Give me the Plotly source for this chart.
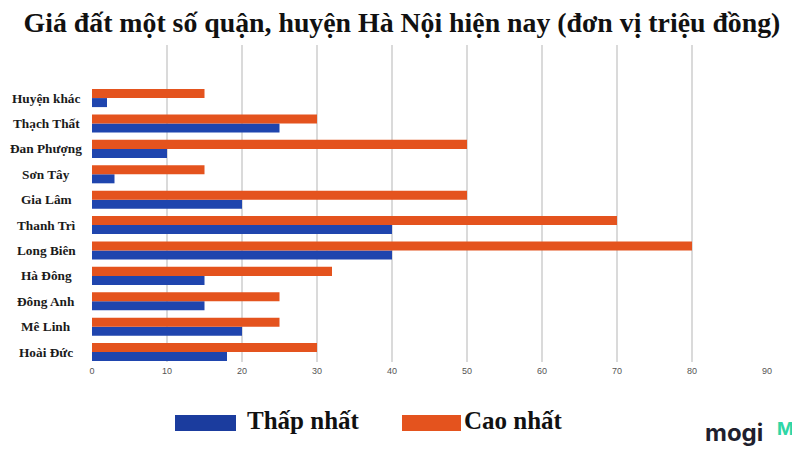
import plotly.graph_objects as go

categories = ["Huyện khác", "Thạch Thất", "Đan Phượng", "Sơn Tây", "Gia Lâm",
              "Thanh Trì", "Long Biên", "Hà Đông", "Đông Anh", "Mê Linh", "Hoài Đức"]
thap_nhat = [2, 25, 10, 3, 20, 40, 40, 15, 15, 20, 18]
cao_nhat = [15, 30, 50, 15, 50, 70, 80, 32, 25, 25, 30]
x_ticks = [0, 10, 20, 30, 40, 50, 60, 70, 80, 90]

BLUE = "#1F45AE"
ORANGE = "#E4531E"
SERIF = "Liberation Serif, Times New Roman, serif"

# page body has an 8px margin, so the figure is drawn at (8, 8)
OFF = 8
W, H = 800 - OFF, 450 - OFF
L, R, T = 92 - OFF, 800 - 767, 45 - OFF
B = H - (362 - OFF)
PW, PH = W - L - R, H - T - B


def px(x):
    return (x - OFF - L) / PW


def py(y):
    return (H - B - (y - OFF)) / PH


fig = go.Figure()
fig.add_trace(go.Bar(y=categories, x=thap_nhat, orientation="h", name="Thấp nhất",
                     marker=dict(color=BLUE, line=dict(width=0)), showlegend=False))
fig.add_trace(go.Bar(y=categories, x=cao_nhat, orientation="h", name="Cao nhất",
                     marker=dict(color=ORANGE, line=dict(width=0)), showlegend=False))

fig.update_layout(
    width=W, height=H,
    margin=dict(l=L, r=R, t=T, b=B, autoexpand=False),
    paper_bgcolor="white", plot_bgcolor="white",
    barmode="group", bargap=0.29, bargroupgap=0,
    title=dict(text="<b>Giá đất một số quận, huyện Hà Nội hiện nay (đơn vị triệu đồng)</b>",
               x=(402 - OFF) / W, xanchor="center", y=1 - (22 - OFF) / H, yanchor="middle",
               font=dict(family=SERIF, size=27.8, color="#111111")),
    xaxis=dict(range=[0, 90], tickvals=x_ticks, showgrid=True, gridcolor="#DADADA",
               gridwidth=1.5, zeroline=False, showline=False, ticks="", automargin=False,
               tickfont=dict(family="Liberation Sans, Arial, sans-serif", size=9, color="#555555"),
               ticklabelstandoff=2),
    yaxis=dict(categoryorder="array", categoryarray=list(reversed(categories)),
               range=[-0.39, 12.09], showgrid=False, zeroline=False, showline=False,
               ticks="", showticklabels=False, automargin=False),
)

# category labels, centred in the left margin
for cat in categories:
    fig.add_annotation(text="<b>" + cat + "</b>", xref="paper", yref="y",
                       x=px(46), y=cat, xanchor="center", yanchor="middle",
                       showarrow=False, font=dict(family=SERIF, size=13.3, color="#1a1a1a"))

# custom legend
fig.add_shape(type="rect", xref="paper", yref="paper",
              x0=px(175), x1=px(236), y0=py(431), y1=py(415),
              fillcolor="#1B3C9E", line=dict(width=0))
fig.add_shape(type="rect", xref="paper", yref="paper",
              x0=px(402), x1=px(461), y0=py(431), y1=py(415),
              fillcolor=ORANGE, line=dict(width=0))
fig.add_annotation(text="<b>Thấp nhất</b>", xref="paper", yref="paper",
                   x=px(245), y=py(420), xanchor="left", yanchor="middle",
                   showarrow=False, font=dict(family=SERIF, size=25, color="#111111"))
fig.add_annotation(text="<b>Cao nhất</b>", xref="paper", yref="paper",
                   x=px(462), y=py(420), xanchor="left", yanchor="middle",
                   showarrow=False, font=dict(family=SERIF, size=25, color="#111111"))

# watermark
fig.add_annotation(text="<b>mogi</b>", xref="paper", yref="paper",
                   x=px(703), y=py(432), xanchor="left", yanchor="middle",
                   showarrow=False, font=dict(family="Inter, Roboto, sans-serif", size=24, color="#1f1f2e"))
fig.add_annotation(text="<b>M</b>", xref="paper", yref="paper",
                   x=px(775), y=py(428), xanchor="left", yanchor="middle",
                   showarrow=False, font=dict(family="Inter, Roboto, sans-serif", size=18, color="#2FD6A6"))

fig.write_html("out.html")
